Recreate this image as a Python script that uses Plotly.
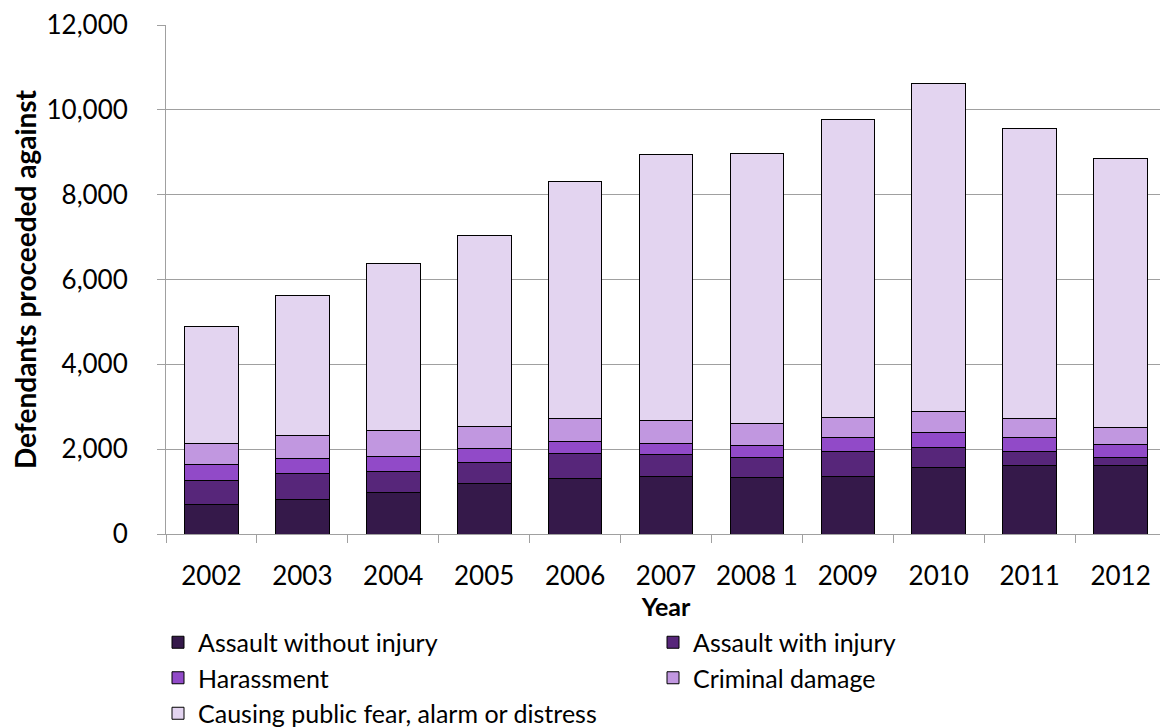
import plotly.graph_objects as go

# Datos (acusados procesados por año)
anios = ["2002", "2003", "2004", "2005", "2006", "2007", "2008 1", "2009", "2010", "2011", "2012"]
assault_without_injury = [693, 811, 976, 1181, 1299, 1362, 1331, 1362, 1567, 1606, 1606]
assault_with_injury = [559, 614, 504, 504, 591, 504, 472, 591, 472, 347, 197]
harassment = [378, 355, 355, 323, 291, 260, 291, 323, 355, 323, 299]
criminal_damage = [504, 551, 614, 527, 536, 559, 504, 472, 504, 441, 410]
public_fear = [2756, 3287, 3932, 4514, 5588, 6273, 6384, 7019, 7718, 6854, 6352]

series = [
    ("Assault without injury", assault_without_injury, "#35194a"),
    ("Assault with injury", assault_with_injury, "#57267a"),
    ("Harassment", harassment, "#914ac8"),
    ("Criminal damage", criminal_damage, "#c197e0"),
    ("Causing public fear, alarm or distress", public_fear, "#e3d4f0"),
]

FONT = "Lato, 'Open Sans', Arial, sans-serif"
GRIS = "#a0a0a0"

fig = go.Figure()
for nombre, valores, color in series:
    fig.add_trace(go.Bar(
        name=nombre, x=anios, y=valores,
        marker=dict(color=color, line=dict(color="#000000", width=1)),
    ))

# la página tiene 8px de margen en el body
fig.update_layout(
    barmode="stack",
    bargap=0.41,
    width=1160, height=719,
    plot_bgcolor="white",
    paper_bgcolor="white",
    font=dict(family=FONT, size=26, color="#000000"),
    margin=dict(l=158, r=2, t=17, b=193, autoexpand=False),
    xaxis=dict(
        title=dict(text="<b>Year</b>", font=dict(size=25), standoff=2),
        showline=True, linecolor=GRIS, linewidth=1,
        ticks="outside", ticklen=8, tickcolor=GRIS, tickson="boundaries",
        tickfont=dict(size=26), ticklabelstandoff=19, tickangle=0,
        automargin=False,
    ),
    yaxis=dict(
        title=dict(text="<b>Defendants proceeded against</b>", font=dict(size=28), standoff=14),
        range=[0, 12000], dtick=2000, tickformat=",",
        showline=True, linecolor=GRIS, linewidth=1,
        showgrid=True, gridcolor=GRIS, gridwidth=1,
        ticks="outside", ticklen=8, tickcolor=GRIS,
        tickfont=dict(size=26), ticklabelstandoff=24,
        zeroline=False, automargin=False,
    ),
    legend=dict(
        orientation="h", x=-0.008, xanchor="left", y=-0.168, yanchor="top",
        entrywidth=450, entrywidthmode="pixels",
        font=dict(size=25), traceorder="normal",
    ),
)

fig.write_html("out.html")
